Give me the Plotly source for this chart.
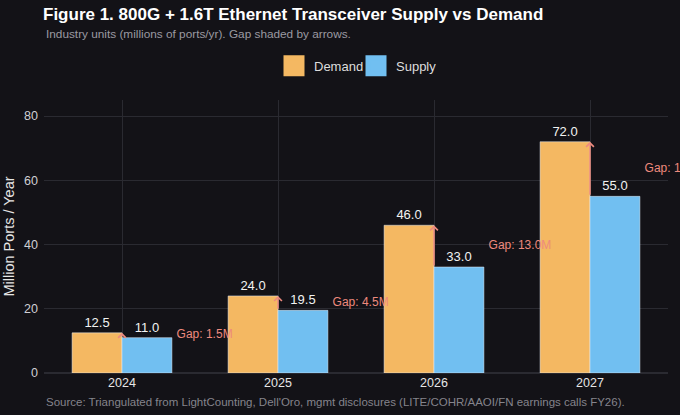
import plotly.graph_objects as go

years = [2024, 2025, 2026, 2027]
demand = [12.5, 24.0, 46.0, 72.0]
supply = [11.0, 19.5, 33.0, 55.0]

BG = '#131217'
GRID = '#2a2a31'
DEMAND_COLOR = '#f4b862'
SUPPLY_COLOR = '#71bff1'
GAP_COLOR = '#ee8a7e'
FONT = 'Liberation Sans, Arial, sans-serif'

fig = go.Figure()

# bars (legend handled by dummy traces below so the swatches are bigger)
fig.add_trace(go.Bar(
    x=years, y=demand, name='Demand', marker_color=DEMAND_COLOR,
    text=[f'{v:.1f}' for v in demand], textposition='outside',
    textfont=dict(color='#f2f2f2', size=13), showlegend=False,
    hoverinfo='skip', cliponaxis=False,
))
fig.add_trace(go.Bar(
    x=years, y=supply, name='Supply', marker_color=SUPPLY_COLOR,
    text=[f'{v:.1f}' for v in supply], textposition='outside',
    textfont=dict(color='#f2f2f2', size=13), showlegend=False,
    hoverinfo='skip', cliponaxis=False,
))

for name, color in [('Demand', DEMAND_COLOR), ('Supply', SUPPLY_COLOR)]:
    fig.add_trace(go.Scatter(
        x=[None], y=[None], mode='markers', name=name,
        marker=dict(symbol='square', size=16, color=color,
                    line=dict(color=color, width=5)),
    ))

# gap labels; the last one runs off the right edge like the original
gaps = [d - s for d, s in zip(demand, supply)]
fig.add_trace(go.Scatter(
    x=[y + 0.35 for y in years],
    y=[(d + s) / 2 for d, s in zip(demand, supply)],
    mode='text', text=[f'Gap: {g:.1f}M' for g in gaps],
    textposition='middle right',
    textfont=dict(color=GAP_COLOR, size=12),
    showlegend=False, hoverinfo='skip', cliponaxis=False,
))

# arrows from supply up to demand
for yr, d, s in zip(years, demand, supply):
    fig.add_annotation(
        x=yr, y=d, ax=yr, ay=s, xref='x', yref='y', axref='x', ayref='y',
        text='', showarrow=True, arrowhead=4, arrowsize=1,
        arrowwidth=1.5, arrowcolor=GAP_COLOR,
    )

fig.add_annotation(
    text='Industry units (millions of ports/yr). Gap shaded by arrows.',
    xref='paper', yref='paper', x=0, y=1.242, xanchor='left', yanchor='middle',
    showarrow=False, font=dict(size=11.8, color='#9b9aa2'),
)
fig.add_annotation(
    text="Source: Triangulated from LightCounting, Dell'Oro, mgmt disclosures "
         "(LITE/COHR/AAOI/FN earnings calls FY26).",
    xref='paper', yref='paper', x=0, y=0, yshift=-29, xanchor='left', yanchor='middle',
    showarrow=False, font=dict(size=11.5, color='#85848c'),
)

fig.update_layout(
    width=680, height=415,
    paper_bgcolor=BG, plot_bgcolor=BG,
    font=dict(family=FONT, color='#dddddd'),
    margin=dict(l=44, r=12, t=100, b=42, autoexpand=False),
    title=dict(
        text='<b>Figure 1. 800G + 1.6T Ethernet Transceiver Supply vs Demand</b>',
        x=43 / 680, xref='container', xanchor='left',
        y=1 - 14 / 415, yref='container', yanchor='middle',
        font=dict(size=17, color='#ffffff'),
    ),
    barmode='group', bargap=0.36, bargroupgap=0,
    legend=dict(
        orientation='h', x=0.5, xanchor='center', y=1.125, yanchor='middle',
        font=dict(size=13, color='#dddddd'), bgcolor='rgba(0,0,0,0)',
        entrywidth=37, entrywidthmode='pixels',
    ),
    xaxis=dict(
        range=[2023.5, 2027.5], tickvals=years, ticktext=[str(y) for y in years],
        showgrid=True, gridcolor=GRID, zeroline=False, showline=False,
        tickfont=dict(size=12.5, color='#e6e6e6'), ticks='', automargin=False,
    ),
    yaxis=dict(
        range=[0, 85], tickvals=[0, 20, 40, 60, 80],
        showgrid=True, gridcolor=GRID, zeroline=True, zerolinecolor=GRID,
        tickfont=dict(size=12.5, color='#cfcfd4'), ticklabelstandoff=5,
        automargin=False,
        title=dict(text='Million Ports / Year', font=dict(size=14.5, color='#e6e6e6'),
                   standoff=6),
    ),
    showlegend=True,
)

# drop the page's default body margin so the chart sits at the window's corner
fig.write_html('out.html', config={'displayModeBar': False},
               post_script="document.body.style.margin='0';")
